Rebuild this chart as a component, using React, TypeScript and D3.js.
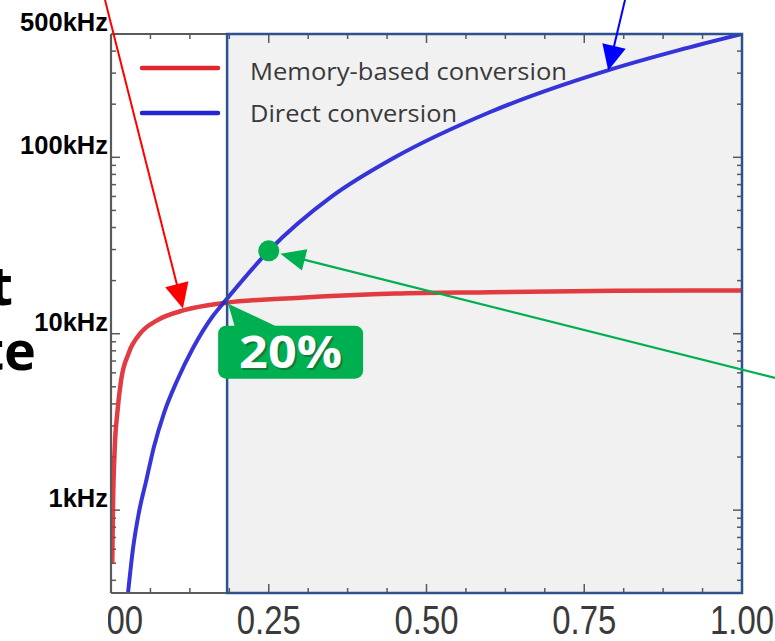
import React from "react";
import * as d3 from "d3";

// ---------- data ----------
const xTickValues = [0, 0.25, 0.5, 0.75, 1.0];
const xTickLabels = ["0.00", "0.25", "0.50", "0.75", "1.00"];
const yTickValues = [1000, 10000, 100000, 500000];
const yTickLabels = ["1kHz", "10kHz", "100kHz", "500kHz"];
const seriesNames = ["Memory-based conversion", "Direct conversion"];
const seriesColors = ["#e0262e", "#2424d6"];

// Memory-based conversion
const memX = [0.002, 0.003, 0.006, 0.01, 0.016, 0.028, 0.047, 0.073, 0.116, 0.18, 0.3, 0.45, 0.6, 0.8, 1.0];
const memF = [500, 960, 2280, 3550, 5450, 7760, 10100, 11900, 13600, 14950, 16000, 16900, 17200, 17500, 17600];

// Direct conversion
const dirX = [0.027, 0.035, 0.044, 0.056, 0.068, 0.084, 0.105, 0.13, 0.16, 0.18, 0.25, 0.35, 0.45, 0.6, 0.786, 0.9, 1.0];
const dirF = [340, 610, 960, 1480, 2280, 3550, 5450, 8300, 12400, 15200, 29500, 60000, 100000, 180000, 310000, 405000, 500000];

const thresholdX = 0.184;
const thresholdF = 15000;
const thresholdLabel = "20%";
const markerX = 0.25;
const markerF = 29500;
const redArrowTip = [0.114, 13900];
const blueArrowTip = [0.788, 311000];

const slideFragments = ["t", "te"];

export default function App() {
  const W = 775, H = 641;
  const L = 111, R = 742, T = 34, B = 593;
  const x = d3.scaleLinear().domain([0, 1]).range([L, R]);
  const y = d3.scaleLog().domain([339, 500000]).range([B, T]);

  const line = d3
    .line<[number, number]>()
    .x((d) => x(d[0]))
    .y((d) => y(d[1]))
    .curve(d3.curveMonotoneX);

  const memData = memX.map((v, i) => [v, memF[i]] as [number, number]);
  const dirData = dirX.map((v, i) => [v, dirF[i]] as [number, number]);

  const xt = x(thresholdX);
  const xTicks = d3.range(0, 1.00001, 0.0625);
  const yTicks: number[] = [];
  [100, 1000, 10000, 100000].forEach((dec) => {
    for (let k = 1; k <= 9; k++) {
      const v = dec * k;
      if (v >= 339 && v <= 500000) yTicks.push(v);
    }
  });
  const isMajorY = (v: number) => [1000, 10000, 100000].includes(v);

  const arrowHead = (tx: number, ty: number, fx: number, fy: number, len: number, half: number) => {
    const dx = tx - fx, dy = ty - fy;
    const d = Math.hypot(dx, dy);
    const ux = dx / d, uy = dy / d;
    const bx = tx - ux * len, by = ty - uy * len;
    return `M${tx},${ty} L${bx - uy * half},${by + ux * half} L${bx + uy * half},${by - ux * half} Z`;
  };

  // red arrow
  const rTip = [x(redArrowTip[0]), y(redArrowTip[1])];
  const rTail = [105, 0];
  // blue arrow
  const bTip = [x(blueArrowTip[0]), y(blueArrowTip[1])];
  const bTail = [625, 0];
  // green marker + arrow
  const mx = x(markerX), my = y(markerF);
  const gTail = [775, 378];
  const gdx = mx - gTail[0], gdy = my - gTail[1];
  const gd = Math.hypot(gdx, gdy);
  const gTip = [mx - (gdx / gd) * 12, my - (gdy / gd) * 12];
  const shaftEnd = (tip: number[], tail: number[], len: number) => {
    const dx = tip[0] - tail[0], dy = tip[1] - tail[1];
    const d = Math.hypot(dx, dy);
    return [tip[0] - (dx / d) * len, tip[1] - (dy / d) * len];
  };
  const rEnd = shaftEnd(rTip, rTail, 20);
  const bEnd = shaftEnd(bTip, bTail, 20);
  const gEnd = shaftEnd(gTip, gTail, 20);

  // callout
  const cx = xt, cy = y(thresholdF);
  const boxX = cx - 9, boxY = cy + 23, boxW = 145, boxH = 53;

  const green = "#00b050";
  const axisGrey = "#5a5a5a";
  const borderBlue = "#2f528f";

  return (
    <svg
      width={W}
      height={H}
      style={{ position: "absolute", left: 0, top: 0, background: "#fff" }}
      fontFamily="'Liberation Sans', Arial, sans-serif"
    >
      <defs>
        <clipPath id="plotClip">
          <rect x={L} y={T} width={R - L} height={B - T} />
        </clipPath>
        <clipPath id="xLabClip">
          <rect x={108} y={595} width={700} height={50} />
        </clipPath>
      </defs>
      <rect x={0} y={0} width={W} height={H} fill="#fff" />

      {/* shaded region */}
      <rect x={xt} y={T} width={R - xt} height={B - T} fill="#f1f1f1" />

      {/* legend */}
      <line x1={142} x2={218} y1={68} y2={68} stroke={seriesColors[0]} strokeWidth={4.5} strokeLinecap="round" />
      <line x1={142} x2={218} y1={113} y2={113} stroke={seriesColors[1]} strokeWidth={4.5} strokeLinecap="round" />
      <text x={250} y={80} fontFamily="'Open Sans', sans-serif" fontSize={23} fill="#3a3a3a" textLength={317} lengthAdjust="spacingAndGlyphs">
        {seriesNames[0]}
      </text>
      <text x={250} y={122} fontFamily="'Open Sans', sans-serif" fontSize={23} fill="#3a3a3a" textLength={207} lengthAdjust="spacingAndGlyphs">
        {seriesNames[1]}
      </text>

      {/* ticks */}
      <g stroke={axisGrey} strokeWidth={1.5}>
        {xTicks.map((v, i) => {
          const major = Math.abs((v / 0.25) - Math.round(v / 0.25)) < 1e-6;
          const len = major ? 9 : 5;
          return (
            <g key={"xt" + i}>
              <line x1={x(v)} x2={x(v)} y1={B} y2={B - len} />
              <line x1={x(v)} x2={x(v)} y1={T} y2={T + len} />
            </g>
          );
        })}
        {yTicks.map((v, i) => {
          const len = isMajorY(v) ? 9 : 5;
          return (
            <g key={"yt" + i}>
              <line x1={L} x2={L + len} y1={y(v)} y2={y(v)} />
              <line x1={R} x2={R - len} y1={y(v)} y2={y(v)} />
            </g>
          );
        })}
      </g>

      {/* curves */}
      <g clipPath="url(#plotClip)">
        <path d={line(memData) || ""} fill="none" stroke={seriesColors[0]} strokeWidth={4.5} strokeOpacity={0.9} />
        <path d={line(dirData) || ""} fill="none" stroke={seriesColors[1]} strokeWidth={4} strokeOpacity={0.92} />
      </g>

      {/* axis frame (left part) */}
      <g stroke={axisGrey} strokeWidth={2.2}>
        <line x1={L} x2={L} y1={T} y2={B} />
        <line x1={L} x2={xt} y1={T} y2={T} />
        <line x1={L} x2={xt} y1={B} y2={B} />
      </g>
      {/* shaded region border */}
      <rect x={xt} y={T} width={R - xt} height={B - T} fill="none" stroke={borderBlue} strokeWidth={2.5} />

      {/* y labels */}
      {yTickValues.map((v, i) => (
        <text key={"yl" + i} x={108} y={y(v) - 3} textAnchor="end" fontWeight="bold" fontSize={25.5} fill="#000">
          {yTickLabels[i]}
        </text>
      ))}

      {/* x labels */}
      <g clipPath="url(#xLabClip)">
        {xTickValues.map((v, i) => (
          <text
            key={"xl" + i}
            x={x(v)}
            y={634}
            textAnchor="middle"
            fontSize={40}
            fill="#3a3a3a"
            textLength={64}
            lengthAdjust="spacingAndGlyphs"
          >
            {xTickLabels[i]}
          </text>
        ))}
      </g>

      {/* slide fragments */}
      <text x={13} y={305} textAnchor="end" fontFamily="'Open Sans', sans-serif" fontWeight="bold" fontSize={54} fill="#000">
        {slideFragments[0]}
      </text>
      <text x={36} y={370} textAnchor="end" fontFamily="'Open Sans', sans-serif" fontWeight="bold" fontSize={54} fill="#000">
        {slideFragments[1]}
      </text>

      {/* red arrow */}
      <line x1={rTail[0]} y1={rTail[1]} x2={rEnd[0]} y2={rEnd[1]} stroke="#ff0000" strokeWidth={2} />
      <path d={arrowHead(rTip[0], rTip[1], rTail[0], rTail[1], 25, 12)} fill="#ff0000" />

      {/* blue arrow */}
      <line x1={bTail[0]} y1={bTail[1]} x2={bEnd[0]} y2={bEnd[1]} stroke="#0000ff" strokeWidth={2} />
      <path d={arrowHead(bTip[0], bTip[1], bTail[0], bTail[1], 25, 12)} fill="#0000ff" />

      {/* green marker and arrow */}
      <circle cx={mx} cy={my} r={10.5} fill={green} />
      <line x1={gTail[0]} y1={gTail[1]} x2={gEnd[0]} y2={gEnd[1]} stroke={green} strokeWidth={2.2} />
      <path d={arrowHead(gTip[0], gTip[1], gTail[0], gTail[1], 25, 11)} fill={green} />

      {/* callout */}
      <path
        d={`M${cx + 1},${cy + 1} L${cx + 8},${boxY + 2} L${cx + 52},${boxY + 2} Z`}
        fill={green}
      />
      <rect x={boxX} y={boxY} width={boxW} height={boxH} rx={8} fill={green} />
      <text
        x={boxX + boxW / 2 + 2}
        y={boxY + 44}
        textAnchor="middle"
        fontFamily="'Open Sans', sans-serif"
        fontWeight="bold"
        fontSize={44}
        fill="#1a5a30"
        opacity={0.6}
        textLength={103}
        lengthAdjust="spacingAndGlyphs"
      >
        {thresholdLabel}
      </text>
      <text
        x={boxX + boxW / 2}
        y={boxY + 42}
        textAnchor="middle"
        fontFamily="'Open Sans', sans-serif"
        fontWeight="bold"
        fontSize={44}
        fill="#fff"
        textLength={103}
        lengthAdjust="spacingAndGlyphs"
      >
        {thresholdLabel}
      </text>
    </svg>
  );
}
